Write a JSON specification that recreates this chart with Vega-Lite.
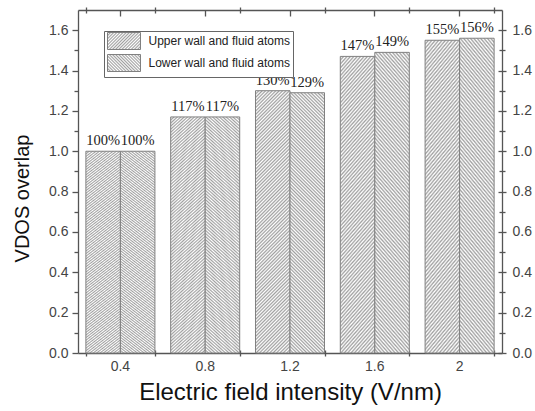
{
  "$schema": "https://vega.github.io/schema/vega-lite/v6.json",
  "width": 424,
  "height": 343,
  "autosize": "none",
  "padding": {"left": 78, "top": 10, "right": 33, "bottom": 58},
  "background": "white",
  "data": {
    "values": [
      {"E": "0.4", "series": "Upper wall and fluid atoms", "value": 1.00},
      {"E": "0.4", "series": "Lower wall and fluid atoms", "value": 1.00},
      {"E": "0.8", "series": "Upper wall and fluid atoms", "value": 1.17},
      {"E": "0.8", "series": "Lower wall and fluid atoms", "value": 1.17},
      {"E": "1.2", "series": "Upper wall and fluid atoms", "value": 1.30},
      {"E": "1.2", "series": "Lower wall and fluid atoms", "value": 1.29},
      {"E": "1.6", "series": "Upper wall and fluid atoms", "value": 1.47},
      {"E": "1.6", "series": "Lower wall and fluid atoms", "value": 1.49},
      {"E": "2", "series": "Upper wall and fluid atoms", "value": 1.55},
      {"E": "2", "series": "Lower wall and fluid atoms", "value": 1.56}
    ]
  },
  "config": {
    "view": {"stroke": null},
    "legend": {"rowPadding": 0},
    "axis": {
      "grid": false,
      "domainColor": "#555555",
      "tickColor": "#555555",
      "domainWidth": 1.3,
      "tickWidth": 1.3,
      "labelFont": "Liberation Sans",
      "titleFont": "Liberation Sans",
      "labelColor": "#444444",
      "titleColor": "#111111",
      "labelFontSize": 14,
      "titleFontWeight": "normal"
    }
  },
  "resolve": {
    "scale": {"fill": "independent"},
    "axis": {"x": "independent", "y": "independent"}
  },
  "layer": [
    {
      "mark": {"type": "bar", "stroke": "#808080", "strokeWidth": 1},
      "encoding": {
        "x": {
          "field": "E", "type": "nominal", "sort": null,
          "scale": {"paddingInner": 0.186, "paddingOuter": 0.093},
          "axis": {"orient": "bottom", "title": "Electric field intensity (V/nm)", "titleFontSize": 24, "titlePadding": 7, "labelAngle": 0, "ticks": false, "labelPadding": 6, "domain": true}
        },
        "xOffset": {
          "field": "series", "type": "nominal",
          "sort": ["Upper wall and fluid atoms", "Lower wall and fluid atoms"],
          "scale": {"paddingInner": 0, "paddingOuter": 0}
        },
        "y": {
          "field": "value", "type": "quantitative",
          "scale": {"domain": [0, 1.7], "nice": false},
          "axis": {"orient": "left", "title": "VDOS overlap", "titleFontSize": 20, "titlePadding": 16, "titleY": 188, "values": [0, 0.2, 0.4, 0.6, 0.8, 1.0, 1.2, 1.4, 1.6], "format": ".1f", "tickSize": 6, "labelPadding": 4, "domain": true}
        },
        "fill": {
          "condition": {
            "test": "datum.series === 'Upper wall and fluid atoms'",
            "value": {"gradient": "linear", "x1": 0, "y1": 0, "x2": 0.169, "y2": 1.279, "stops": [
{"offset":0,"color":"#a0a0a0"},{"offset":0.005,"color":"#fff"},{"offset":0.01,"color":"#a0a0a0"},{"offset":0.015,"color":"#fff"},{"offset":0.02,"color":"#a0a0a0"},{"offset":0.025,"color":"#fff"},{"offset":0.03,"color":"#a0a0a0"},{"offset":0.035,"color":"#fff"},{"offset":0.04,"color":"#a0a0a0"},{"offset":0.045,"color":"#fff"},
{"offset":0.05,"color":"#a0a0a0"},{"offset":0.055,"color":"#fff"},{"offset":0.06,"color":"#a0a0a0"},{"offset":0.065,"color":"#fff"},{"offset":0.07,"color":"#a0a0a0"},{"offset":0.075,"color":"#fff"},{"offset":0.08,"color":"#a0a0a0"},{"offset":0.085,"color":"#fff"},{"offset":0.09,"color":"#a0a0a0"},{"offset":0.095,"color":"#fff"},
{"offset":0.1,"color":"#a0a0a0"},{"offset":0.105,"color":"#fff"},{"offset":0.11,"color":"#a0a0a0"},{"offset":0.115,"color":"#fff"},{"offset":0.12,"color":"#a0a0a0"},{"offset":0.125,"color":"#fff"},{"offset":0.13,"color":"#a0a0a0"},{"offset":0.135,"color":"#fff"},{"offset":0.14,"color":"#a0a0a0"},{"offset":0.145,"color":"#fff"},
{"offset":0.15,"color":"#a0a0a0"},{"offset":0.155,"color":"#fff"},{"offset":0.16,"color":"#a0a0a0"},{"offset":0.165,"color":"#fff"},{"offset":0.17,"color":"#a0a0a0"},{"offset":0.175,"color":"#fff"},{"offset":0.18,"color":"#a0a0a0"},{"offset":0.185,"color":"#fff"},{"offset":0.19,"color":"#a0a0a0"},{"offset":0.195,"color":"#fff"},
{"offset":0.2,"color":"#a0a0a0"},{"offset":0.205,"color":"#fff"},{"offset":0.21,"color":"#a0a0a0"},{"offset":0.215,"color":"#fff"},{"offset":0.22,"color":"#a0a0a0"},{"offset":0.225,"color":"#fff"},{"offset":0.23,"color":"#a0a0a0"},{"offset":0.235,"color":"#fff"},{"offset":0.24,"color":"#a0a0a0"},{"offset":0.245,"color":"#fff"},
{"offset":0.25,"color":"#a0a0a0"},{"offset":0.255,"color":"#fff"},{"offset":0.26,"color":"#a0a0a0"},{"offset":0.265,"color":"#fff"},{"offset":0.27,"color":"#a0a0a0"},{"offset":0.275,"color":"#fff"},{"offset":0.28,"color":"#a0a0a0"},{"offset":0.285,"color":"#fff"},{"offset":0.29,"color":"#a0a0a0"},{"offset":0.295,"color":"#fff"},
{"offset":0.3,"color":"#a0a0a0"},{"offset":0.305,"color":"#fff"},{"offset":0.31,"color":"#a0a0a0"},{"offset":0.315,"color":"#fff"},{"offset":0.32,"color":"#a0a0a0"},{"offset":0.325,"color":"#fff"},{"offset":0.33,"color":"#a0a0a0"},{"offset":0.335,"color":"#fff"},{"offset":0.34,"color":"#a0a0a0"},{"offset":0.345,"color":"#fff"},
{"offset":0.35,"color":"#a0a0a0"},{"offset":0.355,"color":"#fff"},{"offset":0.36,"color":"#a0a0a0"},{"offset":0.365,"color":"#fff"},{"offset":0.37,"color":"#a0a0a0"},{"offset":0.375,"color":"#fff"},{"offset":0.38,"color":"#a0a0a0"},{"offset":0.385,"color":"#fff"},{"offset":0.39,"color":"#a0a0a0"},{"offset":0.395,"color":"#fff"},
{"offset":0.4,"color":"#a0a0a0"},{"offset":0.405,"color":"#fff"},{"offset":0.41,"color":"#a0a0a0"},{"offset":0.415,"color":"#fff"},{"offset":0.42,"color":"#a0a0a0"},{"offset":0.425,"color":"#fff"},{"offset":0.43,"color":"#a0a0a0"},{"offset":0.435,"color":"#fff"},{"offset":0.44,"color":"#a0a0a0"},{"offset":0.445,"color":"#fff"},
{"offset":0.45,"color":"#a0a0a0"},{"offset":0.455,"color":"#fff"},{"offset":0.46,"color":"#a0a0a0"},{"offset":0.465,"color":"#fff"},{"offset":0.47,"color":"#a0a0a0"},{"offset":0.475,"color":"#fff"},{"offset":0.48,"color":"#a0a0a0"},{"offset":0.485,"color":"#fff"},{"offset":0.49,"color":"#a0a0a0"},{"offset":0.495,"color":"#fff"},
{"offset":0.5,"color":"#a0a0a0"},{"offset":0.505,"color":"#fff"},{"offset":0.51,"color":"#a0a0a0"},{"offset":0.515,"color":"#fff"},{"offset":0.52,"color":"#a0a0a0"},{"offset":0.525,"color":"#fff"},{"offset":0.53,"color":"#a0a0a0"},{"offset":0.535,"color":"#fff"},{"offset":0.54,"color":"#a0a0a0"},{"offset":0.545,"color":"#fff"},
{"offset":0.55,"color":"#a0a0a0"},{"offset":0.555,"color":"#fff"},{"offset":0.56,"color":"#a0a0a0"},{"offset":0.565,"color":"#fff"},{"offset":0.57,"color":"#a0a0a0"},{"offset":0.575,"color":"#fff"},{"offset":0.58,"color":"#a0a0a0"},{"offset":0.585,"color":"#fff"},{"offset":0.59,"color":"#a0a0a0"},{"offset":0.595,"color":"#fff"},
{"offset":0.6,"color":"#a0a0a0"},{"offset":0.605,"color":"#fff"},{"offset":0.61,"color":"#a0a0a0"},{"offset":0.615,"color":"#fff"},{"offset":0.62,"color":"#a0a0a0"},{"offset":0.625,"color":"#fff"},{"offset":0.63,"color":"#a0a0a0"},{"offset":0.635,"color":"#fff"},{"offset":0.64,"color":"#a0a0a0"},{"offset":0.645,"color":"#fff"},
{"offset":0.65,"color":"#a0a0a0"},{"offset":0.655,"color":"#fff"},{"offset":0.66,"color":"#a0a0a0"},{"offset":0.665,"color":"#fff"},{"offset":0.67,"color":"#a0a0a0"},{"offset":0.675,"color":"#fff"},{"offset":0.68,"color":"#a0a0a0"},{"offset":0.685,"color":"#fff"},{"offset":0.69,"color":"#a0a0a0"},{"offset":0.695,"color":"#fff"},
{"offset":0.7,"color":"#a0a0a0"},{"offset":0.705,"color":"#fff"},{"offset":0.71,"color":"#a0a0a0"},{"offset":0.715,"color":"#fff"},{"offset":0.72,"color":"#a0a0a0"},{"offset":0.725,"color":"#fff"},{"offset":0.73,"color":"#a0a0a0"},{"offset":0.735,"color":"#fff"},{"offset":0.74,"color":"#a0a0a0"},{"offset":0.745,"color":"#fff"},
{"offset":0.75,"color":"#a0a0a0"},{"offset":0.755,"color":"#fff"},{"offset":0.76,"color":"#a0a0a0"},{"offset":0.765,"color":"#fff"},{"offset":0.77,"color":"#a0a0a0"},{"offset":0.775,"color":"#fff"},{"offset":0.78,"color":"#a0a0a0"},{"offset":0.785,"color":"#fff"},{"offset":0.79,"color":"#a0a0a0"},{"offset":0.795,"color":"#fff"},
{"offset":0.8,"color":"#a0a0a0"},{"offset":0.805,"color":"#fff"},{"offset":0.81,"color":"#a0a0a0"},{"offset":0.815,"color":"#fff"},{"offset":0.82,"color":"#a0a0a0"},{"offset":0.825,"color":"#fff"},{"offset":0.83,"color":"#a0a0a0"},{"offset":0.835,"color":"#fff"},{"offset":0.84,"color":"#a0a0a0"},{"offset":0.845,"color":"#fff"},
{"offset":0.85,"color":"#a0a0a0"},{"offset":0.855,"color":"#fff"},{"offset":0.86,"color":"#a0a0a0"},{"offset":0.865,"color":"#fff"},{"offset":0.87,"color":"#a0a0a0"},{"offset":0.875,"color":"#fff"},{"offset":0.88,"color":"#a0a0a0"},{"offset":0.885,"color":"#fff"},{"offset":0.89,"color":"#a0a0a0"},{"offset":0.895,"color":"#fff"},
{"offset":0.9,"color":"#a0a0a0"},{"offset":0.905,"color":"#fff"},{"offset":0.91,"color":"#a0a0a0"},{"offset":0.915,"color":"#fff"},{"offset":0.92,"color":"#a0a0a0"},{"offset":0.925,"color":"#fff"},{"offset":0.93,"color":"#a0a0a0"},{"offset":0.935,"color":"#fff"},{"offset":0.94,"color":"#a0a0a0"},{"offset":0.945,"color":"#fff"},
{"offset":0.95,"color":"#a0a0a0"},{"offset":0.955,"color":"#fff"},{"offset":0.96,"color":"#a0a0a0"},{"offset":0.965,"color":"#fff"},{"offset":0.97,"color":"#a0a0a0"},{"offset":0.975,"color":"#fff"},{"offset":0.98,"color":"#a0a0a0"},{"offset":0.985,"color":"#fff"},{"offset":0.99,"color":"#a0a0a0"},{"offset":0.995,"color":"#fff"},
{"offset":1,"color":"#a0a0a0"}
            ]}
          },
          "value": {"gradient": "linear", "x1": 0, "y1": 1, "x2": 0.169, "y2": -0.279, "stops": [
{"offset":0,"color":"#a0a0a0"},{"offset":0.005,"color":"#fff"},{"offset":0.01,"color":"#a0a0a0"},{"offset":0.015,"color":"#fff"},{"offset":0.02,"color":"#a0a0a0"},{"offset":0.025,"color":"#fff"},{"offset":0.03,"color":"#a0a0a0"},{"offset":0.035,"color":"#fff"},{"offset":0.04,"color":"#a0a0a0"},{"offset":0.045,"color":"#fff"},
{"offset":0.05,"color":"#a0a0a0"},{"offset":0.055,"color":"#fff"},{"offset":0.06,"color":"#a0a0a0"},{"offset":0.065,"color":"#fff"},{"offset":0.07,"color":"#a0a0a0"},{"offset":0.075,"color":"#fff"},{"offset":0.08,"color":"#a0a0a0"},{"offset":0.085,"color":"#fff"},{"offset":0.09,"color":"#a0a0a0"},{"offset":0.095,"color":"#fff"},
{"offset":0.1,"color":"#a0a0a0"},{"offset":0.105,"color":"#fff"},{"offset":0.11,"color":"#a0a0a0"},{"offset":0.115,"color":"#fff"},{"offset":0.12,"color":"#a0a0a0"},{"offset":0.125,"color":"#fff"},{"offset":0.13,"color":"#a0a0a0"},{"offset":0.135,"color":"#fff"},{"offset":0.14,"color":"#a0a0a0"},{"offset":0.145,"color":"#fff"},
{"offset":0.15,"color":"#a0a0a0"},{"offset":0.155,"color":"#fff"},{"offset":0.16,"color":"#a0a0a0"},{"offset":0.165,"color":"#fff"},{"offset":0.17,"color":"#a0a0a0"},{"offset":0.175,"color":"#fff"},{"offset":0.18,"color":"#a0a0a0"},{"offset":0.185,"color":"#fff"},{"offset":0.19,"color":"#a0a0a0"},{"offset":0.195,"color":"#fff"},
{"offset":0.2,"color":"#a0a0a0"},{"offset":0.205,"color":"#fff"},{"offset":0.21,"color":"#a0a0a0"},{"offset":0.215,"color":"#fff"},{"offset":0.22,"color":"#a0a0a0"},{"offset":0.225,"color":"#fff"},{"offset":0.23,"color":"#a0a0a0"},{"offset":0.235,"color":"#fff"},{"offset":0.24,"color":"#a0a0a0"},{"offset":0.245,"color":"#fff"},
{"offset":0.25,"color":"#a0a0a0"},{"offset":0.255,"color":"#fff"},{"offset":0.26,"color":"#a0a0a0"},{"offset":0.265,"color":"#fff"},{"offset":0.27,"color":"#a0a0a0"},{"offset":0.275,"color":"#fff"},{"offset":0.28,"color":"#a0a0a0"},{"offset":0.285,"color":"#fff"},{"offset":0.29,"color":"#a0a0a0"},{"offset":0.295,"color":"#fff"},
{"offset":0.3,"color":"#a0a0a0"},{"offset":0.305,"color":"#fff"},{"offset":0.31,"color":"#a0a0a0"},{"offset":0.315,"color":"#fff"},{"offset":0.32,"color":"#a0a0a0"},{"offset":0.325,"color":"#fff"},{"offset":0.33,"color":"#a0a0a0"},{"offset":0.335,"color":"#fff"},{"offset":0.34,"color":"#a0a0a0"},{"offset":0.345,"color":"#fff"},
{"offset":0.35,"color":"#a0a0a0"},{"offset":0.355,"color":"#fff"},{"offset":0.36,"color":"#a0a0a0"},{"offset":0.365,"color":"#fff"},{"offset":0.37,"color":"#a0a0a0"},{"offset":0.375,"color":"#fff"},{"offset":0.38,"color":"#a0a0a0"},{"offset":0.385,"color":"#fff"},{"offset":0.39,"color":"#a0a0a0"},{"offset":0.395,"color":"#fff"},
{"offset":0.4,"color":"#a0a0a0"},{"offset":0.405,"color":"#fff"},{"offset":0.41,"color":"#a0a0a0"},{"offset":0.415,"color":"#fff"},{"offset":0.42,"color":"#a0a0a0"},{"offset":0.425,"color":"#fff"},{"offset":0.43,"color":"#a0a0a0"},{"offset":0.435,"color":"#fff"},{"offset":0.44,"color":"#a0a0a0"},{"offset":0.445,"color":"#fff"},
{"offset":0.45,"color":"#a0a0a0"},{"offset":0.455,"color":"#fff"},{"offset":0.46,"color":"#a0a0a0"},{"offset":0.465,"color":"#fff"},{"offset":0.47,"color":"#a0a0a0"},{"offset":0.475,"color":"#fff"},{"offset":0.48,"color":"#a0a0a0"},{"offset":0.485,"color":"#fff"},{"offset":0.49,"color":"#a0a0a0"},{"offset":0.495,"color":"#fff"},
{"offset":0.5,"color":"#a0a0a0"},{"offset":0.505,"color":"#fff"},{"offset":0.51,"color":"#a0a0a0"},{"offset":0.515,"color":"#fff"},{"offset":0.52,"color":"#a0a0a0"},{"offset":0.525,"color":"#fff"},{"offset":0.53,"color":"#a0a0a0"},{"offset":0.535,"color":"#fff"},{"offset":0.54,"color":"#a0a0a0"},{"offset":0.545,"color":"#fff"},
{"offset":0.55,"color":"#a0a0a0"},{"offset":0.555,"color":"#fff"},{"offset":0.56,"color":"#a0a0a0"},{"offset":0.565,"color":"#fff"},{"offset":0.57,"color":"#a0a0a0"},{"offset":0.575,"color":"#fff"},{"offset":0.58,"color":"#a0a0a0"},{"offset":0.585,"color":"#fff"},{"offset":0.59,"color":"#a0a0a0"},{"offset":0.595,"color":"#fff"},
{"offset":0.6,"color":"#a0a0a0"},{"offset":0.605,"color":"#fff"},{"offset":0.61,"color":"#a0a0a0"},{"offset":0.615,"color":"#fff"},{"offset":0.62,"color":"#a0a0a0"},{"offset":0.625,"color":"#fff"},{"offset":0.63,"color":"#a0a0a0"},{"offset":0.635,"color":"#fff"},{"offset":0.64,"color":"#a0a0a0"},{"offset":0.645,"color":"#fff"},
{"offset":0.65,"color":"#a0a0a0"},{"offset":0.655,"color":"#fff"},{"offset":0.66,"color":"#a0a0a0"},{"offset":0.665,"color":"#fff"},{"offset":0.67,"color":"#a0a0a0"},{"offset":0.675,"color":"#fff"},{"offset":0.68,"color":"#a0a0a0"},{"offset":0.685,"color":"#fff"},{"offset":0.69,"color":"#a0a0a0"},{"offset":0.695,"color":"#fff"},
{"offset":0.7,"color":"#a0a0a0"},{"offset":0.705,"color":"#fff"},{"offset":0.71,"color":"#a0a0a0"},{"offset":0.715,"color":"#fff"},{"offset":0.72,"color":"#a0a0a0"},{"offset":0.725,"color":"#fff"},{"offset":0.73,"color":"#a0a0a0"},{"offset":0.735,"color":"#fff"},{"offset":0.74,"color":"#a0a0a0"},{"offset":0.745,"color":"#fff"},
{"offset":0.75,"color":"#a0a0a0"},{"offset":0.755,"color":"#fff"},{"offset":0.76,"color":"#a0a0a0"},{"offset":0.765,"color":"#fff"},{"offset":0.77,"color":"#a0a0a0"},{"offset":0.775,"color":"#fff"},{"offset":0.78,"color":"#a0a0a0"},{"offset":0.785,"color":"#fff"},{"offset":0.79,"color":"#a0a0a0"},{"offset":0.795,"color":"#fff"},
{"offset":0.8,"color":"#a0a0a0"},{"offset":0.805,"color":"#fff"},{"offset":0.81,"color":"#a0a0a0"},{"offset":0.815,"color":"#fff"},{"offset":0.82,"color":"#a0a0a0"},{"offset":0.825,"color":"#fff"},{"offset":0.83,"color":"#a0a0a0"},{"offset":0.835,"color":"#fff"},{"offset":0.84,"color":"#a0a0a0"},{"offset":0.845,"color":"#fff"},
{"offset":0.85,"color":"#a0a0a0"},{"offset":0.855,"color":"#fff"},{"offset":0.86,"color":"#a0a0a0"},{"offset":0.865,"color":"#fff"},{"offset":0.87,"color":"#a0a0a0"},{"offset":0.875,"color":"#fff"},{"offset":0.88,"color":"#a0a0a0"},{"offset":0.885,"color":"#fff"},{"offset":0.89,"color":"#a0a0a0"},{"offset":0.895,"color":"#fff"},
{"offset":0.9,"color":"#a0a0a0"},{"offset":0.905,"color":"#fff"},{"offset":0.91,"color":"#a0a0a0"},{"offset":0.915,"color":"#fff"},{"offset":0.92,"color":"#a0a0a0"},{"offset":0.925,"color":"#fff"},{"offset":0.93,"color":"#a0a0a0"},{"offset":0.935,"color":"#fff"},{"offset":0.94,"color":"#a0a0a0"},{"offset":0.945,"color":"#fff"},
{"offset":0.95,"color":"#a0a0a0"},{"offset":0.955,"color":"#fff"},{"offset":0.96,"color":"#a0a0a0"},{"offset":0.965,"color":"#fff"},{"offset":0.97,"color":"#a0a0a0"},{"offset":0.975,"color":"#fff"},{"offset":0.98,"color":"#a0a0a0"},{"offset":0.985,"color":"#fff"},{"offset":0.99,"color":"#a0a0a0"},{"offset":0.995,"color":"#fff"},
{"offset":1,"color":"#a0a0a0"}
          ]}
        }
      }
    },
    {
      "mark": {"type": "text", "font": "Liberation Serif", "fontSize": 14.5, "baseline": "bottom", "dy": -3, "color": "#222222"},
      "encoding": {
        "x": {
          "field": "E", "type": "nominal", "sort": null,
          "axis": {"orient": "bottom", "title": null, "labels": false, "domain": false, "ticks": true, "tickSize": -6}
        },
        "xOffset": {
          "field": "series", "type": "nominal",
          "sort": ["Upper wall and fluid atoms", "Lower wall and fluid atoms"]
        },
        "y": {
          "field": "value", "type": "quantitative",
          "scale": {"domain": [0, 1.7], "nice": false},
          "axis": {"orient": "right", "title": null, "values": [0, 0.2, 0.4, 0.6, 0.8, 1.0, 1.2, 1.4, 1.6], "format": ".1f", "tickSize": 4, "labelPadding": 6, "domain": true}
        },
        "text": {"field": "value", "type": "quantitative", "format": ".0%"}
      }
    },
    {
      "mark": {"type": "point", "size": 0, "opacity": 1, "filled": true},
      "encoding": {
        "x": {
          "field": "E", "type": "nominal", "sort": null,
          "axis": {"orient": "top", "title": null, "labels": false, "domain": true, "ticks": true, "tickSize": -6}
        },
        "y": {
          "field": "value", "type": "quantitative",
          "scale": {"domain": [0, 1.7], "nice": false},
          "axis": {"orient": "right", "title": null, "labels": false, "domain": false, "values": [0, 0.2, 0.4, 0.6, 0.8, 1.0, 1.2, 1.4, 1.6], "tickSize": -4}
        },
        "fill": {
          "field": "series", "type": "nominal",
          "scale": {
            "domain": ["Upper wall and fluid atoms", "Lower wall and fluid atoms"],
            "range": [
              {"expr": "{gradient:'linear',x1:0,y1:0,x2:1.198,y2:0.617,stops:[{offset:0,color:'#a0a0a0'},{offset:0.03125,color:'#fff'},{offset:0.0625,color:'#a0a0a0'},{offset:0.09375,color:'#fff'},{offset:0.125,color:'#a0a0a0'},{offset:0.15625,color:'#fff'},{offset:0.1875,color:'#a0a0a0'},{offset:0.21875,color:'#fff'},{offset:0.25,color:'#a0a0a0'},{offset:0.28125,color:'#fff'},{offset:0.3125,color:'#a0a0a0'},{offset:0.34375,color:'#fff'},{offset:0.375,color:'#a0a0a0'},{offset:0.40625,color:'#fff'},{offset:0.4375,color:'#a0a0a0'},{offset:0.46875,color:'#fff'},{offset:0.5,color:'#a0a0a0'},{offset:0.53125,color:'#fff'},{offset:0.5625,color:'#a0a0a0'},{offset:0.59375,color:'#fff'},{offset:0.625,color:'#a0a0a0'},{offset:0.65625,color:'#fff'},{offset:0.6875,color:'#a0a0a0'},{offset:0.71875,color:'#fff'},{offset:0.75,color:'#a0a0a0'},{offset:0.78125,color:'#fff'},{offset:0.8125,color:'#a0a0a0'},{offset:0.84375,color:'#fff'},{offset:0.875,color:'#a0a0a0'},{offset:0.90625,color:'#fff'},{offset:0.9375,color:'#a0a0a0'},{offset:0.96875,color:'#fff'},{offset:1,color:'#a0a0a0'}]}"},
              {"expr": "{gradient:'linear',x1:0,y1:1,x2:1.198,y2:0.383,stops:[{offset:0,color:'#a0a0a0'},{offset:0.03125,color:'#fff'},{offset:0.0625,color:'#a0a0a0'},{offset:0.09375,color:'#fff'},{offset:0.125,color:'#a0a0a0'},{offset:0.15625,color:'#fff'},{offset:0.1875,color:'#a0a0a0'},{offset:0.21875,color:'#fff'},{offset:0.25,color:'#a0a0a0'},{offset:0.28125,color:'#fff'},{offset:0.3125,color:'#a0a0a0'},{offset:0.34375,color:'#fff'},{offset:0.375,color:'#a0a0a0'},{offset:0.40625,color:'#fff'},{offset:0.4375,color:'#a0a0a0'},{offset:0.46875,color:'#fff'},{offset:0.5,color:'#a0a0a0'},{offset:0.53125,color:'#fff'},{offset:0.5625,color:'#a0a0a0'},{offset:0.59375,color:'#fff'},{offset:0.625,color:'#a0a0a0'},{offset:0.65625,color:'#fff'},{offset:0.6875,color:'#a0a0a0'},{offset:0.71875,color:'#fff'},{offset:0.75,color:'#a0a0a0'},{offset:0.78125,color:'#fff'},{offset:0.8125,color:'#a0a0a0'},{offset:0.84375,color:'#fff'},{offset:0.875,color:'#a0a0a0'},{offset:0.90625,color:'#fff'},{offset:0.9375,color:'#a0a0a0'},{offset:0.96875,color:'#fff'},{offset:1,color:'#a0a0a0'}]}"}
            ]
          },
          "legend": {
            "title": null,
            "orient": "none",
            "legendX": 26,
            "legendY": 21,
            "symbolType": "M-1,-1.3077H4.077V1.3077H-1Z",
            "symbolSize": 169,
            "symbolStrokeColor": "#808080",
            "symbolStrokeWidth": 1,
            "symbolOpacity": 1,
            "labelFont": "Liberation Sans",
            "labelFontSize": 12,
            "labelColor": "#222222",
            "labelOffset": 27.5,
            "padding": 3,
            "rowPadding": 0,
            "strokeColor": "#666666",
            "fillColor": "white",
            "encode": {
              "symbols": {
                "update": {
                  "opacity": {"value": 1},
                  "size": {"value": 169},
                  "shape": {"value": "M-1,-1.3077H4.077V1.3077H-1Z"},
                  "stroke": {"value": "#808080"},
                  "strokeWidth": {"value": 1}
                }
              }
            }
          }
        }
      }
    },
    {
      "mark": {"type": "point", "opacity": 0},
      "encoding": {
        "x": {
          "field": "E", "type": "nominal", "sort": null,
          "axis": {"orient": "bottom", "title": null, "labels": false, "domain": false, "tickBand": "extent", "tickSize": 3}
        },
        "y": {
          "field": "value", "type": "quantitative",
          "scale": {"domain": [0, 1.7], "nice": false},
          "axis": {"orient": "left", "title": null, "labels": false, "domain": false, "values": [0.1, 0.3, 0.5, 0.7, 0.9, 1.1, 1.3, 1.5], "tickSize": 4}
        }
      }
    },
    {
      "mark": {"type": "point", "opacity": 0},
      "encoding": {
        "x": {
          "field": "E", "type": "nominal", "sort": null,
          "axis": {"orient": "top", "title": null, "labels": false, "domain": false, "tickBand": "extent", "tickSize": 3}
        },
        "y": {
          "field": "value", "type": "quantitative",
          "scale": {"domain": [0, 1.7], "nice": false},
          "axis": {"orient": "right", "title": null, "labels": false, "domain": false, "values": [0.1, 0.3, 0.5, 0.7, 0.9, 1.1, 1.3, 1.5], "tickSize": 3}
        }
      }
    },
    {
      "mark": {"type": "point", "opacity": 0},
      "encoding": {
        "x": {
          "field": "E", "type": "nominal", "sort": null,
          "axis": {"orient": "bottom", "title": null, "labels": false, "domain": false, "tickBand": "extent", "tickSize": -3}
        },
        "y": {
          "field": "value", "type": "quantitative",
          "scale": {"domain": [0, 1.7], "nice": false},
          "axis": {"orient": "right", "title": null, "labels": false, "domain": false, "values": [0.1, 0.3, 0.5, 0.7, 0.9, 1.1, 1.3, 1.5], "tickSize": -3}
        }
      }
    },
    {
      "mark": {"type": "point", "opacity": 0},
      "encoding": {
        "x": {
          "field": "E", "type": "nominal", "sort": null,
          "axis": {"orient": "top", "title": null, "labels": false, "domain": false, "tickBand": "extent", "tickSize": -3}
        },
        "y": {
          "field": "value", "type": "quantitative",
          "scale": {"domain": [0, 1.7], "nice": false},
          "axis": null
        }
      }
    }
  ]
}
